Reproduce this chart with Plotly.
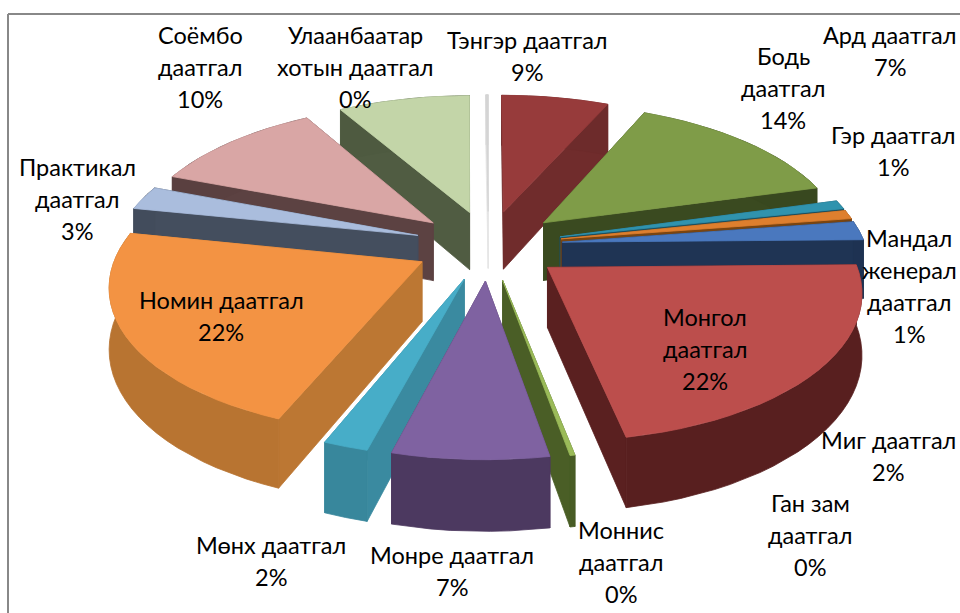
import math
import plotly.graph_objects as go

# Visible slices, clockwise from the top of the pie, with their shares of the circle in percent
slice_names = ["Тэнгэр", "Бодь", "Ард", "Гэр", "Мандал", "Монгол", "Моннис", "Монре",
               "Мөнх", "Номин", "Практикал", "Соёмбо", "Улаанбаатар", "Хоосон"]
slice_shares = [6.67, 14.03, 0.97, 0.97, 2.08, 22.22, 0.22, 6.94, 2.0, 22.08, 2.64, 10.83, 8.19, 0.15]
top_colors = ["#973B3B", "#7F9C48", "#3093AE", "#DE7F2E", "#4A78BE", "#BC4E4C", "#9BBB59", "#7F62A1",
              "#47ADC8", "#F39343", "#AABDDD", "#D9A6A5", "#C3D5A8", "#D4D4D4"]
wall_colors = ["#702C2C", "#3A4A20", "#1D4F5E", "#7A4510", "#1F3454", "#5A2020", "#4A5E26", "#4E3B62",
               "#3A8AA0", "#BC7733", "#444E5E", "#5C4242", "#505C42", "#E4E4E4"]

# Data labels
label_texts = ["Соёмбо\nдаатгал\n10%", "Улаанбаатар\nхотын даатгал\n0%", "Тэнгэр даатгал\n9%",
               "Ард даатгал\n7%", "Бодь\nдаатгал\n14%", "Гэр даатгал\n1%",
               "Мандал\nженерал\nдаатгал\n1%", "Монгол\nдаатгал\n22%", "Миг даатгал\n2%",
               "Ган зам\nдаатгал\n0%", "Моннис\nдаатгал\n0%", "Монре даатгал\n7%",
               "Мөнх даатгал\n2%", "Номин даатгал\n22%", "Практикал\nдаатгал\n3%"]
label_x = [200, 355, 527, 890, 783, 893, 909, 705, 888, 810, 621, 452, 271, 221, 77]
label_y = [67, 67, 56, 51, 88, 151, 286, 349, 456, 535, 562, 571, 561, 316, 199]

# Projection of the tilted pie
CX, CY, RX, RY, PERSP, EXPLODE, DEPTH = 488.5, 245, 303, 142, 0.142, 0.245, 59
LINE_H, FONT = 32.3, 23.5


def project(x, y, z=0.0):
    s = 1 / (1 - PERSP * y)
    return CX + RX * x * s, CY + RY * y * s + DEPTH * s * z


def shade(color, f):
    r, g, b = (int(color[i:i + 2], 16) for i in (1, 3, 5))
    return "#%02x%02x%02x" % tuple(min(255, int(v * f)) for v in (r, g, b))


fig = go.Figure()


def poly(pts, color):
    xs, ys = zip(*pts)
    fig.add_trace(go.Scatter(x=list(xs) + [xs[0]], y=list(ys) + [ys[0]], mode="lines", fill="toself",
                             fillcolor=color, line=dict(color=color, width=0.8),
                             hoverinfo="skip", showlegend=False))


starts, acc = [], 0.0
for v in slice_shares:
    starts.append(acc)
    acc += v
total = acc

spans = [(starts[i] / total * 360, (starts[i] + slice_shares[i]) / total * 360) for i in range(len(slice_shares))]
order = sorted(range(len(spans)), key=lambda i: math.cos(math.radians((spans[i][0] + spans[i][1]) / 2)), reverse=True)

for i in order:
    a0, a1 = spans[i]
    mid = math.radians((a0 + a1) / 2)
    ax, ay = EXPLODE * math.sin(mid), -EXPLODE * math.cos(mid)
    n = max(1, int((a1 - a0) / 3))
    angles = [math.radians(a0 + (a1 - a0) * k / n) for k in range(n + 1)]
    rim = [(ax + math.sin(t), ay - math.cos(t)) for t in angles]
    wall = wall_colors[i]
    # cut faces, the one further back first
    faces = [rim[0], rim[-1]]
    faces.sort(key=lambda p: p[1])
    for p in faces:
        poly([project(ax, ay), project(*p), project(*p, 1), project(ax, ay, 1)], wall)
    # outer wall: one flat tone, drawn as a single band along the arc
    poly([project(*p) for p in rim] + [project(*p, 1) for p in reversed(rim)], shade(wall, 0.98))
    poly([project(ax, ay)] + [project(*p) for p in rim], top_colors[i])

annotations = []
for text, x, y in zip(label_texts, label_x, label_y):
    lines = text.split("\n")
    for j, line in enumerate(lines):
        annotations.append(dict(x=x, y=y + (j - (len(lines) - 1) / 2) * LINE_H, text=line, showarrow=False,
                                xref="x", yref="y", xanchor="center", yanchor="middle",
                                font=dict(family="Lato", size=FONT, color="#000000")))

fig.update_layout(
    width=960, height=613, margin=dict(l=0, r=0, t=0, b=0), showlegend=False,
    paper_bgcolor="#ffffff", plot_bgcolor="#ffffff",
    xaxis=dict(range=[0, 960], visible=False, fixedrange=True),
    yaxis=dict(range=[613, 0], visible=False, fixedrange=True),
    annotations=annotations,
    shapes=[dict(type="line", xref="x", yref="y", x0=8, y0=14, x1=960, y1=14, line=dict(color="#888888", width=2)),
            dict(type="line", xref="x", yref="y", x0=8, y0=14, x1=8, y1=613, line=dict(color="#888888", width=2))],
)
fig.write_html("out.html", config={"displayModeBar": False},
               post_script="document.body.style.margin='0';document.documentElement.style.overflow='hidden';")
